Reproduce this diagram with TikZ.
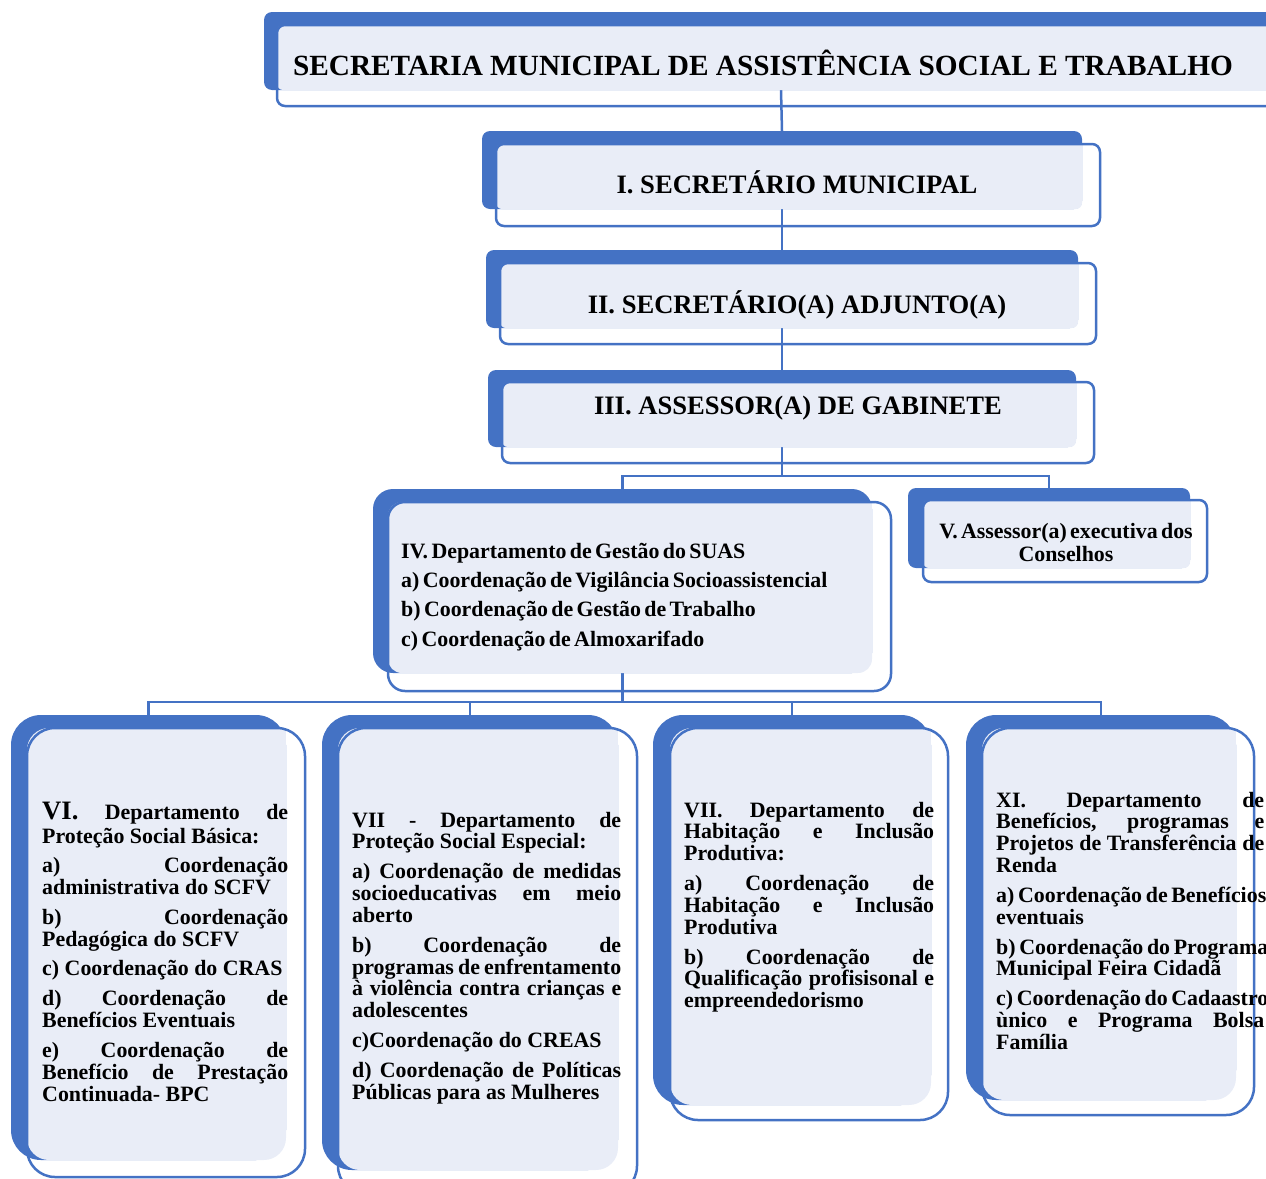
\documentclass[tikz,border=0pt]{standalone}
\usepackage{fontspec}
\setmainfont{Liberation Serif}
\usetikzlibrary{backgrounds}
\definecolor{obl}{HTML}{4472C4}
\definecolor{olt}{HTML}{E9EDF7}
\newcommand\bodyinit{\fontsize{21.9}{21.9}\selectfont\bfseries\setlength\parskip{7.8pt}\setlength\parindent{0pt}\leftskip=0pt\rightskip=0pt\parfillskip=0pt plus 1fil\lineskiplimit=-50pt\tolerance=10000\hyphenpenalty=10000\exhyphenpenalty=10000\hbadness=10000\hfuzz=20pt\relax}
\newcommand\rB{8}\newcommand\rO{8}\newcommand\rL{6}
\newcommand\orgbox[9]{%
 \node[bluebox, rounded corners=\rB pt, minimum width={#4-#2}, minimum height={#5-#3}] (#1) at (#2,#3) {};
 \fill[olt, rounded corners=\rL pt] (#6,#7) rectangle (#4,#5);
 \fill[olt] ({#4-\rL},#7) rectangle (#4,{#7+\rL});
 \draw[outl, rounded corners=\rO pt] (#6,#7) rectangle (#8,#9);
}
\begin{document}
\begin{tikzpicture}[x=1pt,y=-1pt,
 bluebox/.style={fill=obl,draw=none,inner sep=0pt,outer sep=0pt,anchor=north west},
 outl/.style={draw=obl,line width=2.5pt},
 conn/.style={draw=obl,line width=2.5pt},
 body/.style={anchor=base west,inner sep=0pt,text width=#1,align=justify}]
\useasboundingbox (0,0) rectangle (1266,1178);

\orgbox{b0}{264}{12}{1298}{90}{277}{25}{1320}{106}
\orgbox{b1}{482}{131}{1082}{209}{496}{144}{1100}{226}
\orgbox{b2}{486}{250}{1078}{328}{500}{263}{1096}{344}
\orgbox{b3}{488}{370}{1076}{447}{502}{382}{1094}{463}
\renewcommand\rB{20}\renewcommand\rO{17}\renewcommand\rL{14}
\orgbox{b4}{373}{489}{872}{673}{388}{502}{891}{691}
\renewcommand\rB{8}\renewcommand\rO{8}\renewcommand\rL{6}
\orgbox{b5}{908}{488}{1190}{568}{923}{500}{1207}{582}
\renewcommand\rB{30}\renewcommand\rO{28}\renewcommand\rL{22}
\orgbox{b6}{11}{715}{286}{1160}{27}{728}{305}{1177}
\orgbox{b7}{322}{715}{618}{1170}{338}{728}{637}{1194}
\orgbox{b8}{653}{715}{931}{1105}{670}{728}{948}{1120}
\orgbox{b9}{966}{715}{1236}{1100}{982}{728}{1254}{1115}

\node[anchor=base, font=\fontsize{29.3}{32}\selectfont\bfseries] (t0) at (763,75) {SECRETARIA MUNICIPAL DE ASSISTÊNCIA SOCIAL E TRABALHO};
\node[anchor=base, font=\fontsize{26.6}{30}\selectfont\bfseries] (t1) at (797,193) {I. SECRETÁRIO MUNICIPAL};
\node[anchor=base, font=\fontsize{26.6}{30}\selectfont\bfseries] (t2) at (797,313) {II. SECRETÁRIO(A) ADJUNTO(A)};
\node[anchor=base, font=\fontsize{26.6}{30}\selectfont\bfseries] (t3) at (798,414) {III. ASSESSOR(A) DE GABINETE};

\node[anchor=base west, inner sep=0pt, text width=480pt, align=left] (t4) at (401,558) {\fontsize{21.9}{29.4}\selectfont\bfseries\lineskiplimit=-50pt IV. Departamento de Gestão do SUAS\\ a) Coordenação de Vigilância Socioassistencial\\ b) Coordenação de Gestão de Trabalho\\ c) Coordenação de Almoxarifado\par};

\node[anchor=base, inner sep=0pt, text width=290pt, align=center] (t5) at (1066,538) {\fontsize{21.9}{23}\selectfont\bfseries\lineskiplimit=-50pt V. Assessor(a) executiva dos\\ Conselhos\par};

\node[body=246pt] (t6) at (42,819) {\bodyinit {\fontsize{21.9}{24}\selectfont {\fontsize{26.6}{24}\selectfont VI.} Departamento de\linebreak Proteção Social Básica:\par} a) Coordenação\linebreak administrativa do SCFV\par b) Coordenação\linebreak Pedagógica do SCFV\par c) Coordenação do CRAS\par d) Coordenação de\linebreak Benefícios Eventuais\par e) Coordenação de\linebreak Benefício de Prestação\linebreak Continuada- BPC\par};

\node[body=269pt] (t7) at (352,827) {\bodyinit VII - Departamento de\linebreak Proteção Social Especial:\par a)~Coordenação~de~medidas\linebreak socioeducativas em meio\linebreak aberto\par b) Coordenação de\linebreak programas~de~enfrentamento\linebreak à~violência~contra~crianças~e\linebreak adolescentes\par c)Coordenação do CREAS\par d)~Coordenação~de~Políticas\linebreak Públicas para as Mulheres\par};

\node[body=250pt] (t8) at (684,817) {\bodyinit VII. Departamento de\linebreak Habitação e Inclusão\linebreak Produtiva:\par a) Coordenação de\linebreak Habitação e Inclusão\linebreak Produtiva\par b) Coordenação de\linebreak Qualificação~profisisonal~e\linebreak empreendedorismo\par};

\node[body=268pt] (t9) at (996,807) {\bodyinit XI. Departamento de\linebreak Benefícios, programas e\linebreak Projetos~de~Transferência~de\linebreak Renda\par a)~Coordenação~de~Benefícios\linebreak eventuais\par b)~Coordenação~do~Programa\linebreak Municipal Feira Cidadã\par c)~Coordenação~do~Cadaastro\linebreak ùnico e Programa Bolsa\linebreak Família\par};

\begin{scope}[on background layer]
\coordinate (busA) at (0,476);
\coordinate (busB) at (0,702);
\draw[conn] (b0.south) -- (b1.north);
\draw[conn] (b1.south) -- (b2.north);
\draw[conn] (b2.south) -- (b3.north);
\draw[conn] (b3.south) -- (b3.south |- busA);
\draw[conn] (b4.north) -- (b4.north |- busA) -- (b5.north |- busA) -- (b5.north);
\draw[conn] (b4.south) -- (b4.south |- busB);
\draw[conn] (b6.north) -- (b6.north |- busB) -- (b9.north |- busB) -- (b9.north);
\draw[conn] (b7.north) -- (b7.north |- busB);
\draw[conn] (b8.north) -- (b8.north |- busB);
\end{scope}
\end{tikzpicture}
\end{document}
